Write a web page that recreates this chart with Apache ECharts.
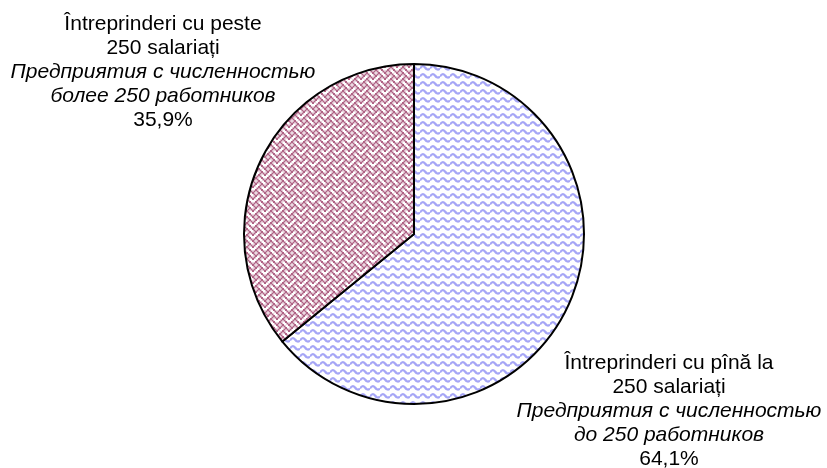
<!DOCTYPE html>
<html>
<head>
<meta charset="utf-8">
<script src="https://cdn.jsdelivr.net/npm/echarts@6/dist/echarts.min.js"></script>
<style>
  html, body { margin: 0; padding: 0; background: #fff; }
  #chart { width: 827px; height: 468px; }
</style>
</head>
<body>
<div id="chart"></div>
<script>
  // data
  var categoriesRo = [
    ['Întreprinderi cu pînă la', '250 salariați'],
    ['Întreprinderi cu peste', '250 salariați']
  ]
  var categoriesRu = [
    ['Предприятия с численностью', 'до 250 работников'],
    ['Предприятия с численностью', 'более 250 работников']
  ]
  var shares = [64.1, 35.9]
  // where each label block sits (center)
  var labelSpots = [[669, 411], [163, 72]]

  // blue wavy pattern
  function wavePattern() {
    var c = document.createElement('canvas')
    c.width = 10
    c.height = 8
    var ctx = c.getContext('2d')
    ctx.fillStyle = '#ffffff'
    ctx.fillRect(0, 0, 10, 8)
    ctx.strokeStyle = '#a6a6f6'
    ctx.lineWidth = 2.2
    ctx.beginPath()
    ctx.moveTo(0, 4.5)
    ctx.quadraticCurveTo(2.5, 0.5, 5, 3.5)
    ctx.quadraticCurveTo(7.5, 7, 10, 4.5)
    ctx.stroke()
    return c
  }

  // maroon weave pattern (8x8 bitmap drawn a bit larger)
  var weaveBits = [0x88, 0x54, 0x22, 0x45, 0x88, 0x14, 0x22, 0x51]
  function weavePattern() {
    var c = document.createElement('canvas')
    c.width = 12
    c.height = 12
    var ctx = c.getContext('2d')
    ctx.fillStyle = '#ffffff'
    ctx.fillRect(0, 0, 12, 12)
    ctx.fillStyle = '#b06486'
    for (var y = 0; y < 8; y++) {
      for (var x = 0; x < 8; x++) {
        if (weaveBits[y] & (0x80 >> x)) {
          var px = x * 1.5, py = y * 1.5
          ctx.fillRect(px, py, 2, 2)
          if (x === 7) ctx.fillRect(px - 12, py, 2, 2)
          if (y === 7) ctx.fillRect(px, py - 12, 2, 2)
        }
      }
    }
    return c
  }

  var fills = [
    { image: wavePattern(), repeat: 'repeat' },
    { image: weavePattern(), repeat: 'repeat' }
  ]

  var myChart = echarts.init(document.getElementById('chart'))

  var pieData = shares.map(function(v, i) {
    return {
      value: v,
      name: categoriesRo[i].join(' '),
      itemStyle: { color: fills[i] }
    }
  })

  var fontName = 'Liberation Sans, Arial, sans-serif'

  var option = {
    animation: false,
    series: [{
      type: 'pie',
      center: [414, 234],
      radius: 170,
      startAngle: 90,
      clockwise: true,
      data: pieData,
      itemStyle: {
        borderColor: '#000',
        borderWidth: 2
      },
      labelLine: { show: false },
      label: {
        show: true,
        position: 'outside',
        color: '#000',
        width: 400,
        overflow: 'none',
        fontFamily: fontName,
        fontSize: 21,
        lineHeight: 24,
        formatter: function(p) {
          var i = p.dataIndex
          return '{a|' + categoriesRo[i][0] + '}\n{a|' + categoriesRo[i][1] + '}\n' +
            '{b|' + categoriesRu[i][0] + '}\n{b|' + categoriesRu[i][1] + '}\n' +
            '{a|' + shares[i].toFixed(1).replace('.', ',') + '%}'
        },
        rich: {
          a: { fontSize: 21, lineHeight: 24, color: '#000', fontFamily: fontName },
          b: { fontSize: 21, lineHeight: 24, color: '#000', fontStyle: 'italic', fontFamily: fontName }
        }
      },
      labelLayout: function(params) {
        var s = labelSpots[params.dataIndex]
        return { x: s[0], y: s[1], align: 'center', verticalAlign: 'middle' }
      }
    }]
  }
  myChart.setOption(option)
</script>
</body>
</html>
